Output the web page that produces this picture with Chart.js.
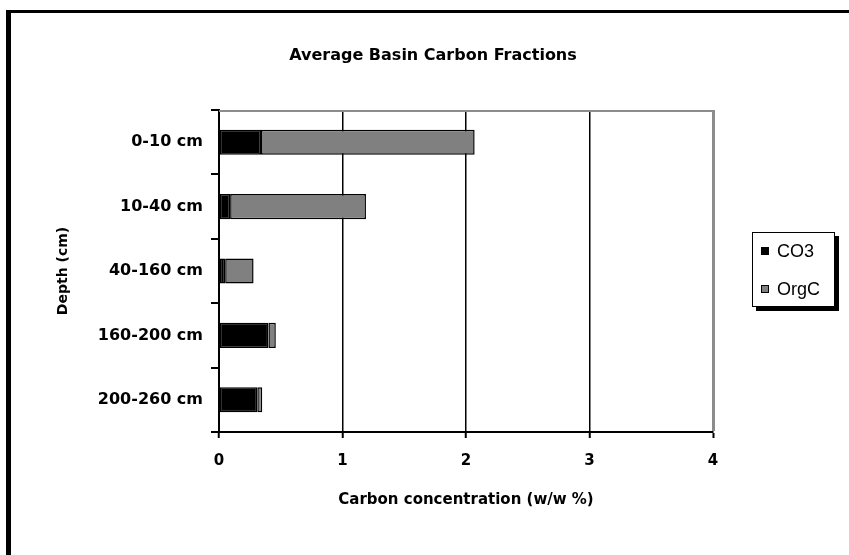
<!DOCTYPE html>
<html>
<head>
<meta charset="utf-8">
<script src="https://cdn.jsdelivr.net/npm/chart.js@4.4.1/dist/chart.umd.min.js"></script>
<style>
  html, body { margin: 0; padding: 0; background: #fff; }
  #wrap { width: 849px; height: 555px; }
</style>
</head>
<body>
<div id="wrap"><canvas id="c" width="849" height="555"></canvas></div>
<script>
// Depth intervals and carbon fractions (w/w %)
const depthLabels = ['0-10 cm', '10-40 cm', '40-160 cm', '160-200 cm', '200-260 cm'];
const co3Values  = [0.34, 0.09, 0.05, 0.40, 0.31];
const orgcValues = [1.73, 1.10, 0.23, 0.06, 0.04];
const xTickValues = [0, 1, 2, 3, 4];
const seriesNames = ['CO3', 'OrgC'];
const chartTitle = 'Average Basin Carbon Fractions';
const xTitle = 'Carbon concentration (w/w %)';
const yTitle = 'Depth (cm)';

const BOLD = 'DejaVu Sans';
const PLAIN = 'Liberation Sans';

// Page frame, title, plot border and boxed legend with drop shadow
const decorations = {
  id: 'decorations',
  beforeDraw(chart) {
    const ctx = chart.ctx;
    ctx.save();
    ctx.fillStyle = '#fff';
    ctx.fillRect(0, 0, chart.width, chart.height);
    ctx.fillStyle = '#000';
    ctx.fillRect(6, 10, chart.width - 6, 3);
    ctx.fillRect(6, 10, 5, chart.height - 10);
    ctx.restore();
  },
  afterDraw(chart) {
    const ctx = chart.ctx;
    const a = chart.chartArea;
    ctx.save();
    // plot area top border
    ctx.strokeStyle = '#8c8c8c';
    ctx.lineWidth = 2;
    ctx.beginPath();
    ctx.moveTo(a.left, a.top + 1);
    ctx.lineTo(a.right + 1, a.top + 1);
    ctx.stroke();

    // title
    ctx.fillStyle = '#000';
    ctx.font = 'bold 16px "' + BOLD + '"';
    ctx.textAlign = 'center';
    ctx.textBaseline = 'middle';
    ctx.fillText(chartTitle, 433, 56);

    // legend box
    const lx = 752, ly = 232, lw = 83, lh = 75;
    ctx.fillStyle = '#000';
    ctx.fillRect(lx + 4, ly + 4, lw, lh);
    ctx.fillStyle = '#fff';
    ctx.fillRect(lx, ly, lw, lh);
    ctx.strokeStyle = '#000';
    ctx.lineWidth = 1;
    ctx.strokeRect(lx + 0.5, ly + 0.5, lw - 1, lh - 1);

    const rows = [251, 289];
    chart.data.datasets.forEach((ds, i) => {
      const y = rows[i];
      ctx.fillStyle = ds.backgroundColor;
      ctx.fillRect(761, y - 4, 8, 8);
      ctx.strokeStyle = '#000';
      ctx.strokeRect(761.5, y - 3.5, 7, 7);
      ctx.fillStyle = '#000';
      ctx.font = '18px "' + PLAIN + '"';
      ctx.textAlign = 'left';
      ctx.textBaseline = 'middle';
      ctx.fillText(ds.label, 777, y + 1);
    });
    ctx.restore();
  }
};

new Chart(document.getElementById('c'), {
  type: 'bar',
  data: {
    labels: depthLabels,
    datasets: [
      { label: seriesNames[0], data: co3Values, backgroundColor: '#000000',
        borderColor: '#000', borderWidth: 1.5, borderSkipped: false },
      { label: seriesNames[1], data: orgcValues, backgroundColor: '#808080',
        borderColor: '#000', borderWidth: 1.5, borderSkipped: false }
    ]
  },
  options: {
    indexAxis: 'y',
    responsive: false,
    animation: false,
    devicePixelRatio: 1,
    layout: { padding: { left: 0, right: 136, top: 110, bottom: 0 } },
    datasets: { bar: { categoryPercentage: 1, barPercentage: 0.39 } },
    plugins: {
      legend: { display: false },
      title: { display: false },
      tooltip: { enabled: false }
    },
    scales: {
      x: {
        stacked: true,
        min: 0,
        max: 4,
        afterBuildTicks(scale) { scale.ticks = xTickValues.map(v => ({ value: v })); },
        afterFit(scale) { scale.height = 123; },
        ticks: {
          color: '#000',
          padding: 14,
          font: { family: BOLD, size: 15, weight: 'bold' }
        },
        grid: {
          color: ctx => (ctx.tick && ctx.tick.value === 4) ? '#8c8c8c' : '#000',
          lineWidth: ctx => (ctx.tick && ctx.tick.value === 4) ? 3 : 1.5,
          tickColor: '#000',
          tickWidth: 2,
          tickLength: 6
        },
        border: { display: true, color: '#000', width: 2 },
        title: {
          display: true,
          text: xTitle,
          color: '#000',
          font: { family: BOLD, size: 15, weight: 'bold' },
          padding: { top: 0, bottom: 46 }
        }
      },
      y: {
        stacked: true,
        afterFit(scale) { scale.width = 219; },
        ticks: {
          color: '#000',
          padding: 8,
          font: { family: BOLD, size: 16, weight: 'bold' }
        },
        grid: {
          offset: true,
          drawOnChartArea: false,
          color: '#000',
          lineWidth: 2,
          tickLength: 8
        },
        border: { display: true, color: '#000', width: 2 },
        title: {
          display: true,
          text: yTitle,
          color: '#000',
          font: { family: BOLD, size: 14, weight: 'bold' },
          padding: { top: 55, bottom: 0 }
        }
      }
    }
  },
  plugins: [decorations]
});
</script>
</body>
</html>
